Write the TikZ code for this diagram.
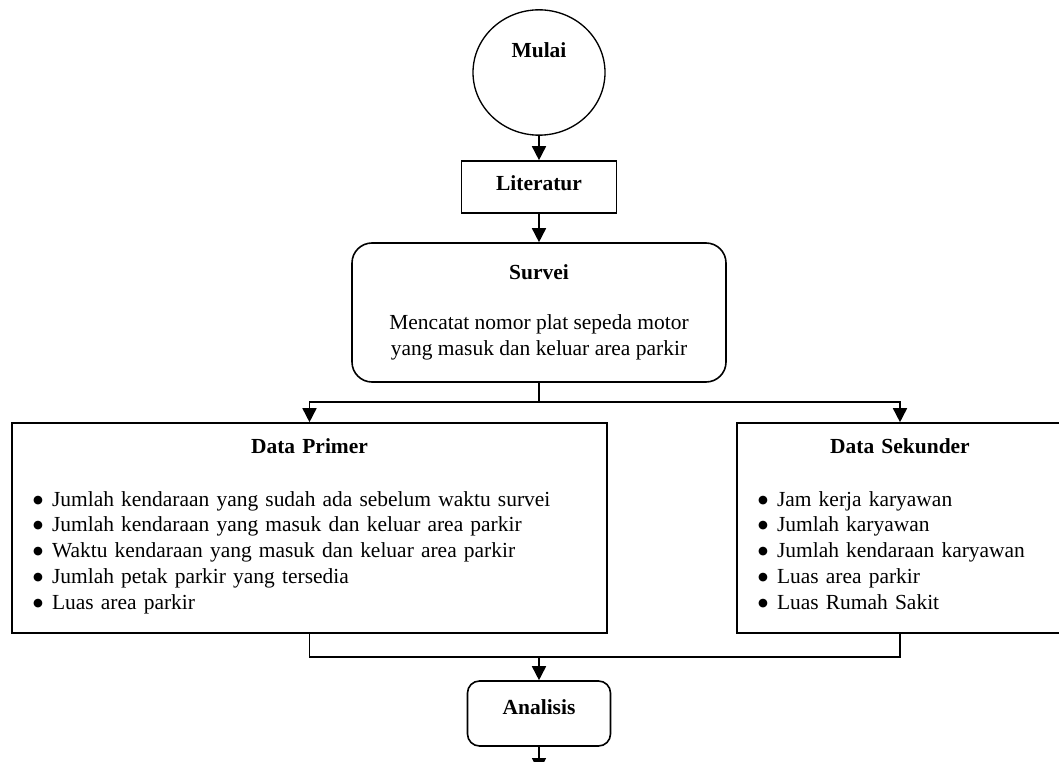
\documentclass[tikz,border=0pt]{standalone}
\usepackage{fontspec}
\setmainfont{Liberation Serif}
\newfontfamily\symfont{DejaVu Sans}
\usetikzlibrary{arrows.meta,shapes.geometric}
\newcommand{\itm}[1]{\makebox[\linewidth][l]{\makebox[14.25pt][l]{\raisebox{2.3pt}{\symfont\fontsize{8.5}{8.5}\selectfont ●}}#1\strut}}
\newcommand{\lift}[2]{\raisebox{#1}[\height][\depth]{#2}}

\begin{document}
\begin{tikzpicture}[x=0.75pt,y=-0.75pt,>={Triangle[length=10.5pt,width=10.5pt]},
  font=\fontsize{16.1}{19.4}\selectfont,line width=1.2pt,
  box/.style={draw,rectangle,inner sep=2pt},
  rbox/.style={draw,rectangle,inner sep=2pt},
  databox/.style={draw,rectangle,inner xsep=15.75pt,align=center,minimum height=157.5pt}]
\useasboundingbox (0,0) rectangle (1059,762);
\clip (0,0) rectangle (1059,762);
% start and first steps
\node[draw,ellipse,line width=1pt,minimum width=99pt,minimum height=94pt] (mulai) at (539,72.5) {};
\node (mulaitext) at (539,50) {\textbf{Mulai}};
\node[box,minimum width=116.25pt,minimum height=39pt] (literatur) at (539,187) {\lift{2.5pt}{\textbf{Literatur}}};
\node[rbox,rounded corners=15pt,minimum width=280.5pt,minimum height=104.25pt,align=center] (survei) at (539,312.5)
  {\textbf{Survei}\\[18pt]Mencatat nomor plat sepeda motor\\yang masuk dan keluar area parkir};
% data boxes
\node[databox,text width=414.75pt] (primer) at (309.5,528)
  {\textbf{Data Primer}\\[20pt]
   \itm{Jumlah kendaraan yang sudah ada sebelum waktu survei}\\
   \itm{Jumlah kendaraan yang masuk dan keluar area parkir}\\
   \itm{Waktu kendaraan yang masuk dan keluar area parkir}\\
   \itm{Jumlah petak parkir yang tersedia}\\
   \itm{Luas area parkir}};
\node[databox,text width=213pt] (sekunder) at (900,528)
  {\textbf{Data Sekunder}\\[20pt]
   \itm{Jam kerja karyawan}\\
   \itm{Jumlah karyawan}\\
   \itm{Jumlah kendaraan karyawan}\\
   \itm{Luas area parkir}\\
   \itm{Luas Rumah Sakit}};
\node[rbox,rounded corners=9pt,minimum width=107.25pt,minimum height=48.75pt] (analisis) at (539,713.5) {\lift{4.5pt}{\textbf{Analisis}}};
\coordinate (split) at (539,402);
\coordinate (merge) at (539,657);
\coordinate (lanjut) at (539,772);
% connectors
\draw[->] (mulai) -- (literatur);
\draw[->] (literatur) -- (survei);
\draw (survei.south) -- (split);
\draw[->] (split) -| (primer.north);
\draw[->] (split) -| (sekunder.north);
\draw (primer.south) |- (merge);
\draw (sekunder.south) |- (merge);
\draw[->] (merge) -- (analisis);
\draw[->] (analisis) -- (lanjut);
\end{tikzpicture}
\end{document}
